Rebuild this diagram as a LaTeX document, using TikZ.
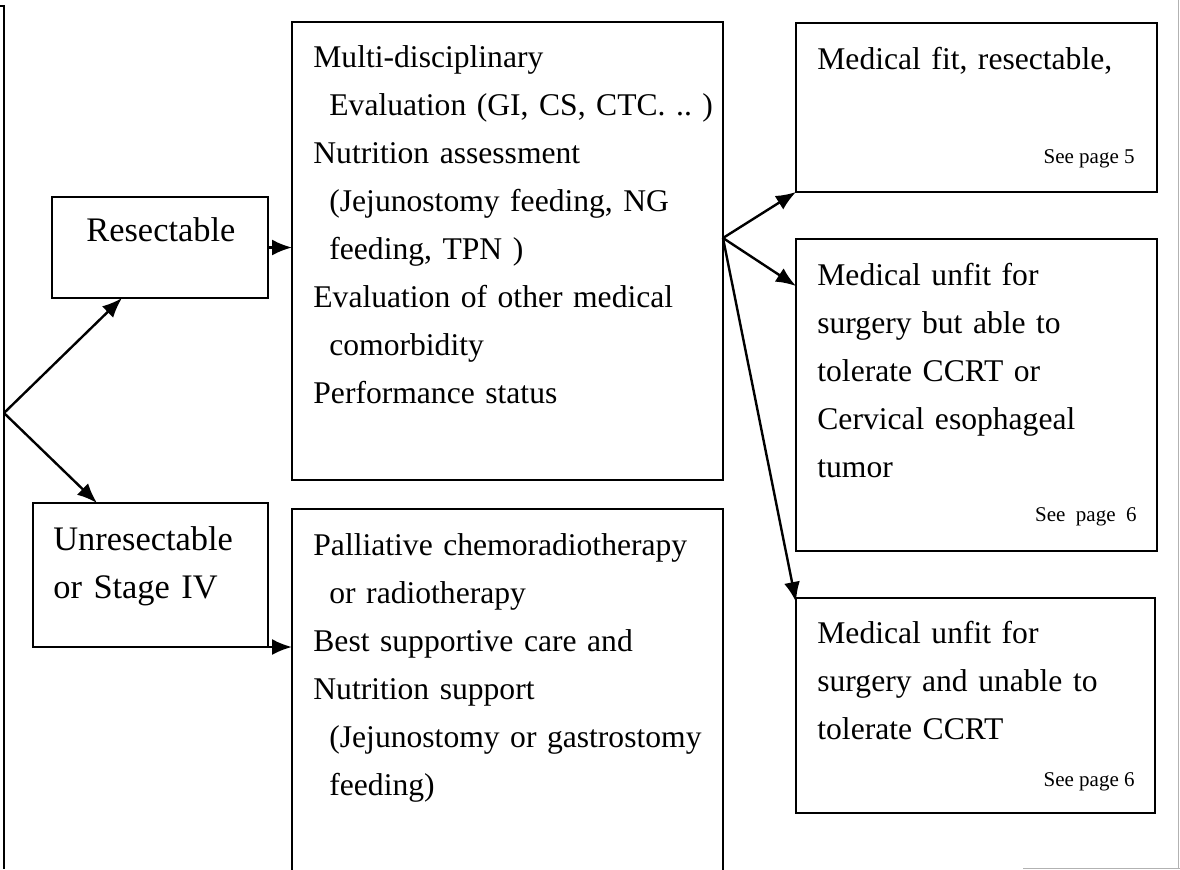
\documentclass[tikz,border=0pt]{standalone}
\usepackage{fontspec}
\setmainfont{Liberation Serif}
\usepackage{tikz}
\usetikzlibrary{positioning}
\usetikzlibrary{arrows.meta}

\tikzset{
  box/.style={draw, line width=1.1pt, inner sep=0pt, outer sep=0pt, anchor=north west},
  txt/.style={inner sep=0pt, anchor=base west, align=left, text width=#1,
    font=\fontsize{15.8}{24}\selectfont\frenchspacing},
  txt/.default=205pt,
  lefttxt/.style={inner sep=0pt, anchor=base west, align=left, text width=110pt,
    font=\fontsize{17.2}{24}\selectfont},
  seepage/.style={inner sep=0pt, anchor=base east, font=\fontsize{10.5}{12}\selectfont},
  arr/.style={line width=1.2pt, -{Latex[length=10pt,width=8pt]}},
  pageedge/.style={gray!60, line width=0.5pt}
}

\begin{document}
\begin{tikzpicture}[x=0.5pt, y=-0.5pt]
\useasboundingbox (0,0) rectangle (1180,869);

% page frame
\draw[line width=1.1pt] (0,6)--(4,6)--(4,869);
\draw[pageedge] (1178,0)--(1178,869);
\draw[pageedge] (1023,868)--(1180,868);

% boxes
\node[box, minimum width=108pt, minimum height=50.5pt] (res) at (52,197) {};
\node[box, minimum width=117.5pt, minimum height=72pt] (unres) at (33,503) {};
\node[box, minimum width=215.5pt, minimum height=229pt] (eval) at (292,22) {};
\node[box, minimum width=215.5pt, minimum height=182pt] (pall) at (292,509) {};
\node[box, minimum width=180.5pt, minimum height=84.5pt] (fit) at (796,23) {};
\node[box, minimum width=180.5pt, minimum height=156pt] (unfit1) at (796,239) {};
\node[box, minimum width=179.5pt, minimum height=107.5pt] (unfit2) at (796,598) {};

% texts
\node[lefttxt] (restext) at (86,241) {Resectable};
\node[lefttxt] (unrestext) at (53,550) {Unresectable\\or Stage IV};

\node[txt] (evaltext) at (313,67) {Multi-disciplinary\\
\hspace*{8pt}Evaluation (GI, CS, CTC. .. )\\
Nutrition assessment\\
\hspace*{8pt}(Jejunostomy feeding, NG\\
\hspace*{8pt}feeding, TPN )\\
Evaluation of other medical\\
\hspace*{8pt}comorbidity\\
Performance status};

\node[txt] (palltext) at (313,555) {Palliative chemoradiotherapy\\
\hspace*{8pt}or radiotherapy\\
Best supportive care and\\
Nutrition support\\
\hspace*{8pt}(Jejunostomy or gastrostomy\\
\hspace*{8pt}feeding)};

\node[txt=170pt] (fittext) at (817,69) {Medical fit, resectable,};
\node[seepage] (fitpage) at (1135,163) {See page 5};

\node[txt=170pt] (unfit1text) at (817,285) {Medical unfit for\\
surgery but able to\\
tolerate CCRT or\\
Cervical esophageal\\
tumor};
\node[seepage] (unfit1page) at (1137,521) {See\ \ page\ \ 6};

\node[txt=170pt] (unfit2text) at (817,643) {Medical unfit for\\
surgery and unable to\\
tolerate CCRT};
\node[seepage] (unfit2page) at (1135,786) {See page 6};

% connectors
\coordinate (split) at (4,413);
\coordinate (fork) at (723,238);

\draw[arr] (split) -- ([xshift=35pt]res.south west);
\draw[arr] (split) -- ([xshift=32pt]unres.north west);
\draw[arr] (res.east) -- (res.east -| eval.west);
\draw[arr] (unres.south east) -- (unres.south east -| pall.west);
\draw[arr] (fork) -- (fit.south west);
\draw[arr] (fork) -- ([yshift=-23.5pt]unfit1.north west);
\draw[arr] (fork) -- ([yshift=-2pt]unfit2.north west);

\end{tikzpicture}
\end{document}
